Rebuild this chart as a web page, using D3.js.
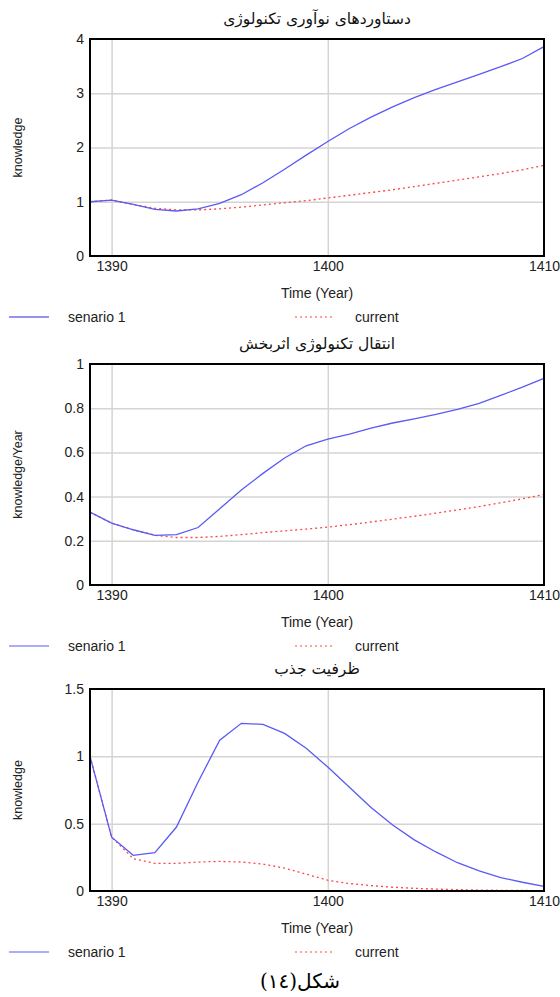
<!DOCTYPE html>
<html>
<head>
<meta charset="utf-8">
<script src="https://cdn.jsdelivr.net/npm/d3@7"></script>
<style>
  body { margin: 0; background: #fff; }
  text { font-family: "Liberation Sans", Arial, sans-serif; }
</style>
</head>
<body>
<script>
// Years shared by all three panels
const years = d3.range(1389, 1411);

// Panel 1: دستاوردهای نوآوری تکنولوژی
const achieveScenario = [1.0, 1.03, 0.95, 0.86, 0.83, 0.87, 0.97, 1.13, 1.35, 1.6, 1.86, 2.11,
  2.35, 2.56, 2.75, 2.92, 3.07, 3.21, 3.35, 3.49, 3.64, 3.86];
const achieveCurrent = [1.0, 1.03, 0.95, 0.88, 0.85, 0.85, 0.87, 0.9, 0.94, 0.98, 1.02, 1.07,
  1.12, 1.17, 1.22, 1.28, 1.34, 1.4, 1.46, 1.52, 1.59, 1.67];

// Panel 2: انتقال تکنولوژی اثربخش
const transferScenario = [0.33, 0.28, 0.25, 0.225, 0.228, 0.26, 0.345, 0.43, 0.505, 0.575, 0.63, 0.66,
  0.683, 0.71, 0.733, 0.752, 0.772, 0.795, 0.822, 0.858, 0.895, 0.935];
const transferCurrent = [0.33, 0.28, 0.25, 0.225, 0.215, 0.215, 0.22, 0.228, 0.237, 0.245, 0.253, 0.262,
  0.273, 0.285, 0.298, 0.311, 0.325, 0.34, 0.355, 0.372, 0.39, 0.41];

// Panel 3: ظرفیت جذب
const absorbScenario = [1.0, 0.4, 0.265, 0.285, 0.475, 0.81, 1.12, 1.245, 1.237, 1.17, 1.06, 0.92,
  0.77, 0.62, 0.49, 0.38, 0.29, 0.21, 0.15, 0.1, 0.065, 0.035];
const absorbCurrent = [1.0, 0.4, 0.24, 0.205, 0.205, 0.215, 0.22, 0.215, 0.2, 0.17, 0.125, 0.08,
  0.055, 0.04, 0.028, 0.02, 0.014, 0.01, 0.007, 0.005, 0.004, 0.003];

const titles = ["دستاوردهای نوآوری تکنولوژی", "انتقال تکنولوژی اثربخش", "ظرفیت جذب"];
const yLabels = ["knowledge", "knowledge/Year", "knowledge"];
const yTicks = [[0, 1, 2, 3, 4], [0, 0.2, 0.4, 0.6, 0.8, 1], [0, 0.5, 1, 1.5]];
const yMax = [4, 1, 1.5];
const xTicks = [1390, 1400, 1410];
const seriesNames = ["senario 1", "current"];
const caption = "شکل(١٤)";

const panels = [
  { top: 39, bottom: 256, scen: achieveScenario, cur: achieveCurrent },
  { top: 364, bottom: 585, scen: transferScenario, cur: transferCurrent },
  { top: 689, bottom: 891, scen: absorbScenario, cur: absorbCurrent }
];

const width = 560, height = 997;
const left = 90, right = 544;

const svg = d3.select("body").append("svg")
  .attr("width", width)
  .attr("height", height);

const x = d3.scaleLinear().domain([1389, 1410]).range([left, right]);

panels.forEach((p, i) => {
  const y = d3.scaleLinear().domain([0, yMax[i]]).range([p.bottom, p.top]);
  const g = svg.append("g");

  // title
  g.append("text")
    .attr("x", (left + right) / 2)
    .attr("y", p.top - 15)
    .attr("text-anchor", "middle")
    .style("font-family", "'DejaVu Sans', sans-serif")
    .style("font-size", "15.5px")
    .attr("fill", "#111")
    .text(titles[i]);

  // grid lines
  g.append("g")
    .attr("transform", `translate(0,${p.bottom})`)
    .call(d3.axisBottom(x).tickValues([1390, 1400]).tickSize(-(p.bottom - p.top)).tickFormat(""))
    .call(a => a.select(".domain").remove())
    .call(a => a.selectAll("line").attr("stroke", "#d4d4d4").attr("stroke-width", 1.5));
  g.append("g")
    .attr("transform", `translate(${left},0)`)
    .call(d3.axisLeft(y).tickValues(yTicks[i].slice(1, -1)).tickSize(-(right - left)).tickFormat(""))
    .call(a => a.select(".domain").remove())
    .call(a => a.selectAll("line").attr("stroke", "#d4d4d4").attr("stroke-width", 1.5));

  // y tick labels
  g.append("g")
    .attr("transform", `translate(${left},0)`)
    .call(d3.axisLeft(y).tickValues(yTicks[i]).tickSize(0).tickPadding(6).tickFormat(d3.format("~g")))
    .call(a => a.select(".domain").remove())
    .call(a => a.selectAll("text")
      .style("font-size", "14px")
      .style("font-family", "'Liberation Sans', Arial, sans-serif")
      .attr("fill", "#222"));

  // x tick labels
  g.append("g")
    .attr("transform", `translate(0,${p.bottom})`)
    .call(d3.axisBottom(x).tickValues(xTicks).tickSize(0).tickPadding(5).tickFormat(d3.format("d")))
    .call(a => a.select(".domain").remove())
    .call(a => a.selectAll("text")
      .style("font-size", "14px")
      .style("font-family", "'Liberation Sans', Arial, sans-serif")
      .attr("fill", "#222"));

  // x axis title
  g.append("text")
    .attr("x", (left + right) / 2)
    .attr("y", p.bottom + 42)
    .attr("text-anchor", "middle")
    .style("font-size", "14px")
    .attr("fill", "#222")
    .text("Time (Year)");

  // y axis title
  g.append("text")
    .attr("transform", `translate(22,${(p.top + p.bottom) / 2}) rotate(-90)`)
    .attr("text-anchor", "middle")
    .style("font-size", "12.5px")
    .attr("fill", "#222")
    .text(yLabels[i]);

  const line = d3.line().x((d, k) => x(years[k])).y(d => y(d));

  g.append("path")
    .datum(p.cur)
    .attr("d", line)
    .attr("fill", "none")
    .attr("stroke", "#ff4646")
    .attr("stroke-width", 1.3)
    .attr("stroke-dasharray", "2,3");

  g.append("path")
    .datum(p.scen)
    .attr("d", line)
    .attr("fill", "none")
    .attr("stroke", "#5a5af5")
    .attr("stroke-width", 1.3);

  // border
  g.append("rect")
    .attr("x", left)
    .attr("y", p.top)
    .attr("width", right - left)
    .attr("height", p.bottom - p.top)
    .attr("fill", "none")
    .attr("stroke", "#000")
    .attr("stroke-width", 2);

  // legend
  const ly = p.bottom + 61;
  g.append("line")
    .attr("x1", 9).attr("x2", 49).attr("y1", ly).attr("y2", ly)
    .attr("stroke", i === 0 ? "#2b2be0" : "#5a5af5").attr("stroke-width", 1.2);
  g.append("text")
    .attr("x", 68).attr("y", ly + 5)
    .style("font-size", "14px").attr("fill", "#222")
    .text(seriesNames[0]);
  g.append("line")
    .attr("x1", 295).attr("x2", 335).attr("y1", ly).attr("y2", ly)
    .attr("stroke", "#ff4646").attr("stroke-width", 1.2)
    .attr("stroke-dasharray", "2,3");
  g.append("text")
    .attr("x", 355).attr("y", ly + 5)
    .style("font-size", "14px").attr("fill", "#222")
    .text(seriesNames[1]);
});

// figure caption
svg.append("text")
  .attr("x", 300)
  .attr("y", 988)
  .attr("text-anchor", "middle")
  .style("font-family", "'DejaVu Serif', 'DejaVu Sans', serif")
  .style("font-size", "20px")
  .attr("fill", "#000")
  .text(caption);
</script>
</body>
</html>
